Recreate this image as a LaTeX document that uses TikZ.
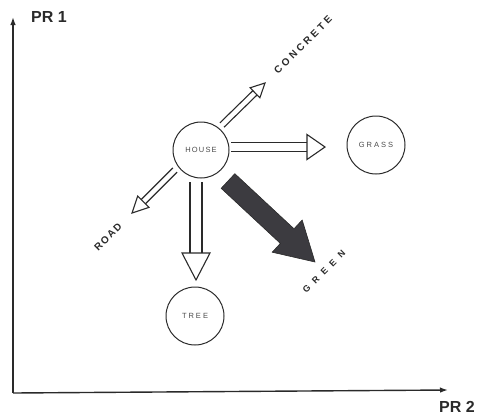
\documentclass[tikz,border=0pt]{standalone}
\usepackage{fontspec}
\setmainfont{Liberation Sans}
\usetikzlibrary{calc,arrows.meta}

% outlined arrow: start, tip, half shaft width, half head width, head length
\newcommand\hollowarrow[5]{%
  \coordinate (hb) at ($(#2)!#5!(#1)$);
  \draw[outline] ($(#1)!#3!90:(#2)$) -- ($(hb)!#3!90:(#2)$);
  \draw[outline] ($(#1)!#3!-90:(#2)$) -- ($(hb)!#3!-90:(#2)$);
  \draw[outline] ($(hb)!#4!90:(#2)$) -- (#2) -- ($(hb)!#4!-90:(#2)$) -- cycle;
}
% solid arrow with the same parameters
\newcommand\solidarrow[5]{%
  \coordinate (hb) at ($(#2)!#5!(#1)$);
  \filldraw[solid arrow] ($(#1)!#3!90:(#2)$) -- ($(hb)!#3!90:(#2)$)
    -- ($(hb)!#4!90:(#2)$) -- (#2) -- ($(hb)!#4!-90:(#2)$)
    -- ($(hb)!#3!-90:(#2)$) -- ($(#1)!#3!-90:(#2)$) -- cycle;
}

\definecolor{arrowdark}{HTML}{3C3B40}
\definecolor{ink}{HTML}{2A2A2A}

\begin{document}
\begin{tikzpicture}[x=1pt,y=-1pt,
  axis/.style={draw=ink, line width=1.4pt, -{Latex[length=8pt,width=5.5pt]}},
  concept/.style={circle, draw=ink, line width=1pt, minimum size=#1, inner sep=0pt,
    text=ink!85, font=\fontsize{7.5}{9}\selectfont},
  axislabel/.style={text=ink, font=\fontsize{16}{18}\selectfont\bfseries},
  tag/.style={text=ink, font=\fontsize{10}{12}\selectfont\bfseries, rotate=45},
  outline/.style={draw=ink, line width=1.1pt, line join=miter},
  solid arrow/.style={fill=arrowdark, draw=ink, line width=0.6pt, line join=miter},
]
\useasboundingbox (0,0) rectangle (481,418);

% axes
\coordinate (origin) at (13,393);
\coordinate (ytip) at (13,17);
\coordinate (xtip) at (448,390);
\draw[axis] (origin) -- (ytip);
\draw[axis] (origin) -- (xtip);
\node[axislabel] (pr1) at (49,17) {PR 1};
\node[axislabel] (pr2) at (457,407) {PR 2};

% concepts
\node[concept=56pt] (house) at (201,150) {H\kern1.2pt O\kern1.2pt U\kern1.2pt S\kern1.2pt E};
\node[concept=58pt] (grass) at (376,145) {G\kern2pt R\kern2pt A\kern2pt S\kern2pt S};
\node[concept=58pt] (tree) at (195,316) {T\kern2pt R\kern2pt E\kern2pt E};

% arrow ends
\coordinate (grassS) at (231,147);
\coordinate (grassT) at (325,147);
\coordinate (treeS) at (196,182);
\coordinate (treeT) at (196,280);
\coordinate (concreteS) at (222,125);
\coordinate (concreteT) at (265,83);
\coordinate (roadS) at (175,170);
\coordinate (roadT) at (132,213);
\coordinate (greenS) at (228,181);
\coordinate (greenT) at (315,262);

\hollowarrow{grassS}{grassT}{4.5pt}{12.5pt}{18pt}
\hollowarrow{treeS}{treeT}{6pt}{14pt}{27pt}
\hollowarrow{concreteS}{concreteT}{3pt}{7pt}{14pt}
\hollowarrow{roadS}{roadT}{3pt}{8pt}{16pt}
\solidarrow{greenS}{greenT}{10pt}{22pt}{38pt}

% arrow labels
\node[tag] (concrete) at (303,45) {C\kern3pt O\kern3pt N\kern3pt C\kern3pt R\kern3pt E\kern3pt T\kern3pt E};
\node[tag] (road) at (108,237) {R\kern1.5pt O\kern1.5pt A\kern1.5pt D};
\node[tag, font=\fontsize{9}{11}\selectfont\bfseries] (green) at (324,272) {G\kern6pt R\kern6pt E\kern6pt E\kern6pt N};
\end{tikzpicture}
\end{document}
